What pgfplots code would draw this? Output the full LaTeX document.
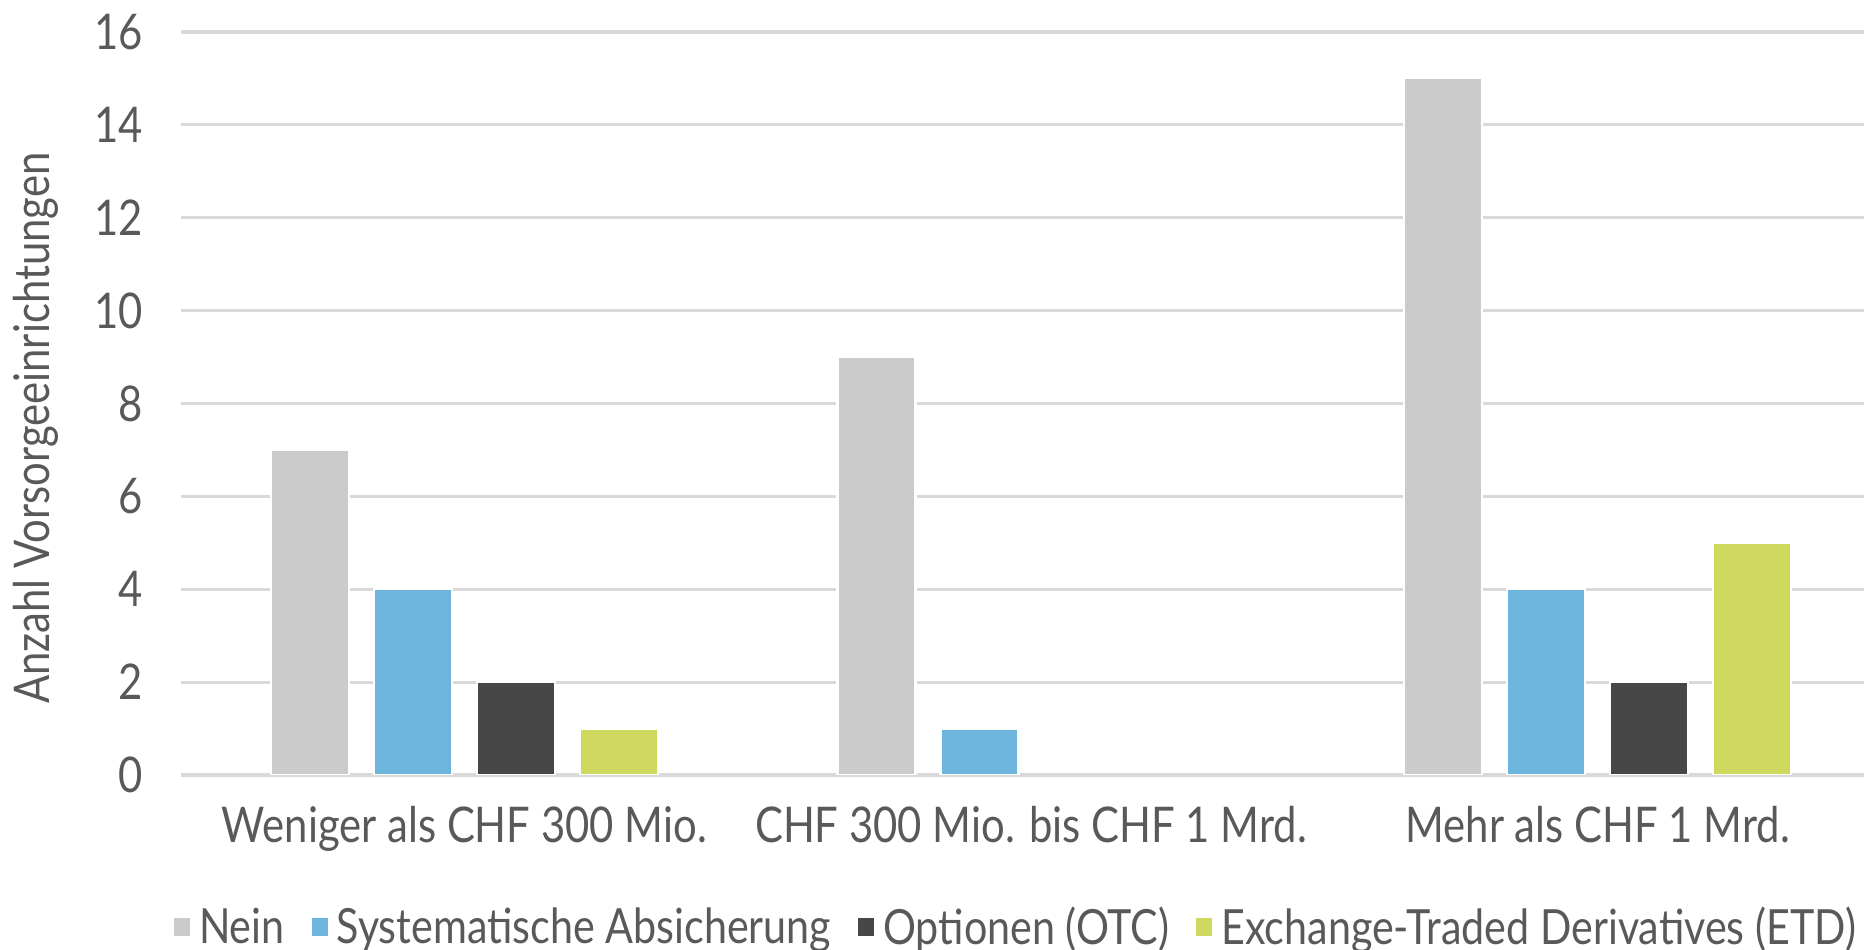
\documentclass[border=0pt]{standalone}
\usepackage{pgfplots}
\pgfplotsset{compat=1.18}
\usepackage{fontspec}
\setmainfont{Lato}[FakeStretch=0.85]

\definecolor{nein}{HTML}{CBCBCB}
\definecolor{syst}{HTML}{6DB5DD}
\definecolor{opt}{HTML}{474747}
\definecolor{etd}{HTML}{CED75E}
\definecolor{txt}{HTML}{595959}
\definecolor{grd}{HTML}{D9D9D9}

\begin{document}
\begin{tikzpicture}
\useasboundingbox (-1.81cm,-1.75cm) rectangle (16.83cm,7.75cm);
\begin{axis}[
    at={(0,0)}, anchor=south west,
    scale only axis,
    width=16.83cm, height=7.43cm,
    ybar=0.25cm,
    bar width=0.78cm,
    xmin=-0.5, xmax=2.47,
    ymin=0, ymax=16,
    ytick={0,2,...,16},
    xtick={0,1,2},
    xticklabels={Weniger als CHF 300 Mio., CHF 300 Mio. bis CHF 1 Mrd., Mehr als CHF 1 Mrd.},
    ymajorgrids,
    grid style={grd, line width=0.9pt},
    axis line style={draw=none},
    major tick length=0pt,
    tick label style={font=\fontsize{14pt}{16pt}\selectfont, text=txt},
    /pgf/number format/assume math mode=true,
    yticklabel style={xshift=-0.26cm},
    xticklabel style={yshift=-0.19cm},
    ylabel={Anzahl Vorsorgeeinrichtungen},
    ylabel style={font=\fontsize{14pt}{16pt}\selectfont, text=txt,
        at={(axis description cs:-0.0862,0.467)}, anchor=center},
    legend style={at={(0.497,-0.206)}, anchor=center, draw=none, inner sep=1pt,
        legend columns=4, font=\fontsize{13.8pt}{15pt}\selectfont, text=txt,
        /tikz/every even column/.append style={column sep=0.18cm}},
    legend cell align=left,
    legend image code/.code={\fill[#1] (0cm,-0.09cm) rectangle (0.18cm,0.11cm);},
    every axis plot/.append style={draw=white, line width=0.6pt},
]
\addplot[fill=nein] coordinates {(0,7) (1,9) (2,15)};
\addplot[fill=syst] coordinates {(0,4) (1,1) (2,4)};
\addplot[fill=opt] coordinates {(0,2) (2,2)};
\addplot[fill=etd] coordinates {(0,1) (2,5)};
\legend{Nein, Systematische Absicherung, Optionen (OTC), Exchange-Traded Derivatives (ETD)}
\end{axis}
\end{tikzpicture}
\end{document}
